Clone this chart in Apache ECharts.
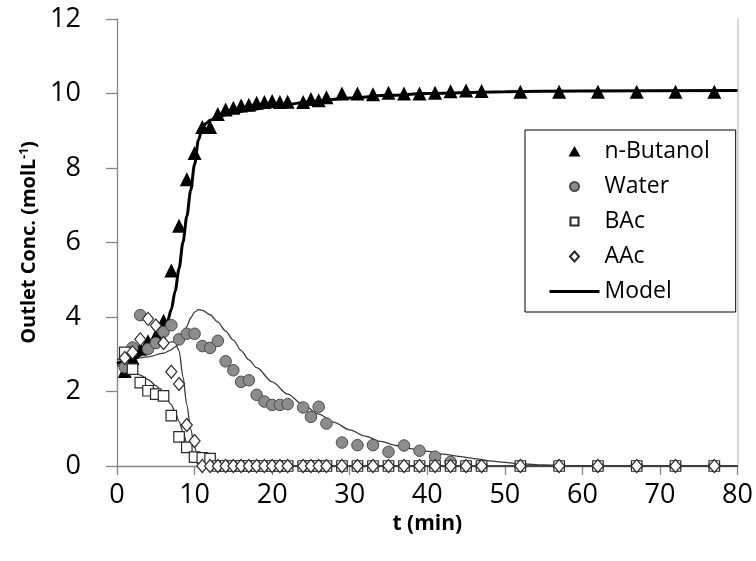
<!DOCTYPE html>
<html>
<head>
<meta charset="utf-8">
<script src="https://cdn.jsdelivr.net/npm/echarts@6/dist/echarts.min.js"></script>
<style>
  html, body { margin: 0; padding: 0; background: #fff; }
  #chart { width: 756px; height: 561px; }
</style>
</head>
<body>
<div id="chart"></div>
<script>
// Measured outlet concentrations (mol/L) against time (min)
const tButanol = [1,2,3,4,5,6,7,8,9,10,11,12,13,14,15,16,17,18,19,20,21,22,24,25,26,27,29,31,33,35,37,39,41,43,45,47,52,57,62,67,72,77];
const butanol  = [2.55,2.9,3.15,3.35,3.5,3.9,5.25,6.45,7.7,8.4,9.1,9.1,9.45,9.57,9.62,9.68,9.7,9.75,9.77,9.8,9.77,9.78,9.77,9.85,9.82,9.9,10.0,10.0,9.98,10.02,10.0,10.0,10.02,10.06,10.08,10.07,10.05,10.05,10.05,10.05,10.05,10.05];

const tWater = [1,2,3,4,5,6,7,8,9,10,11,12,13,14,15,16,17,18,19,20,21,22,24,25,26,27,29,31,33,35,37,39,41,43,45,47,52,57,62,67,72,77];
const water  = [2.65,3.18,4.05,3.14,3.3,3.6,3.78,3.4,3.55,3.55,3.22,3.17,3.36,2.81,2.57,2.26,2.3,1.91,1.73,1.64,1.64,1.66,1.57,1.32,1.59,1.14,0.63,0.56,0.56,0.38,0.55,0.41,0.25,0.11,0,0,0,0,0,0,0,0];

const tBAc = [1,2,3,4,5,6,7,8,9,10,11,12,13,14,15,16,17,18,19,20,21,22,24,25,26,27,29,31,33,35,37,39,41,43,45,47,52,57,62,67,72,77];
const bac  = [3.05,2.6,2.24,2.02,1.93,1.88,1.35,0.78,0.5,0.24,0.22,0.2,0,0,0,0,0,0,0,0,0,0,0,0,0,0,0,0,0,0,0,0,0,0,0,0,0,0,0,0,0,0];

const tAAc = [1,2,3,4,5,6,7,8,9,10,11,12,13,14,15,16,17,18,19,20,21,22,24,25,26,27,29,31,33,35,37,39,41,43,45,47,52,57,62,67,72,77];
const aac  = [2.9,3.05,3.4,3.95,3.77,3.3,2.53,2.2,1.1,0.67,0,0,0,0,0,0,0,0,0,0,0,0,0,0,0,0,0,0,0,0,0,0,0,0,0,0,0,0,0,0,0,0];

// Model curves
const modelButanolT = [0,2,4,5,6,6.5,7,7.5,8,8.5,9,9.5,10,10.5,11,11.5,12,13,15,17,20,25,30,35,40,50,60,80];
const modelButanol  = [2.75,2.88,3.08,3.28,3.62,3.88,4.2,4.7,5.3,6.0,6.7,7.4,8.1,8.75,9.08,9.2,9.28,9.38,9.48,9.56,9.65,9.78,9.88,9.95,10.0,10.05,10.07,10.08];

const modelWaterT = [0,2,4,6,7,7.5,8,8.5,9,9.5,10,10.5,11,12,13,14,15,16,17,18,20,22,24,26,28,30,32,34,36,38,40,42,44,46,48,50,52,55,58,60,80];
const modelWater  = [2.85,2.87,2.93,3.03,3.12,3.2,3.32,3.5,3.75,3.98,4.13,4.2,4.18,4.06,3.86,3.62,3.38,3.1,2.85,2.64,2.26,1.93,1.64,1.39,1.17,0.97,0.8,0.66,0.55,0.46,0.39,0.32,0.26,0.2,0.14,0.1,0.06,0.03,0.01,0,0];

const modelBAcT = [0,1,2,3,4,5,6,7,7.5,8,8.5,9,9.5,10,10.5,11,12,80];
const modelBAc  = [2.7,2.64,2.55,2.44,2.32,2.16,1.95,1.65,1.44,1.2,0.92,0.62,0.36,0.16,0.06,0.01,0,0];

const modelAAcT = [0,2,4,6,7,7.5,8,8.5,9,9.5,10,10.5,11,12,80];
const modelAAc  = [2.85,3.0,3.12,3.25,3.33,3.32,3.1,2.4,1.65,0.98,0.5,0.18,0.03,0,0];

// Axis ticks
const xTicks = { min: 0, max: 80, interval: 10 };
const yTicks = { min: 0, max: 12, interval: 2 };

const pairs = (xs, ys) => xs.map((x, i) => [x, ys[i]]);

// Legend icons laid out in a 50x11 box so that the small marker sits in the
// middle of the line-sized slot (the corner moves pin the bounding box).
const BOX = 'M0,0M50,11';
const ICON_TRIANGLE = 'path://' + BOX + 'M19,10.5L25,0L31,10.5Z';
const ICON_CIRCLE = 'path://' + BOX + 'M20.5,5.5a4.5,4.5 0 1,0 9,0a4.5,4.5 0 1,0 -9,0Z';
const ICON_SQUARE = 'path://' + BOX + 'M21,1.5L29,1.5L29,9.5L21,9.5Z';
const ICON_DIAMOND = 'path://' + BOX + 'M25,0.5L29.5,5.5L25,10.5L20.5,5.5Z';

const FONT = 'Open Sans';
const chart = echarts.init(document.getElementById('chart'), null, { renderer: 'canvas' });

const modelLine = (name, xs, ys, width, color) => ({
  name, type: 'line', data: pairs(xs, ys), symbol: 'none',
  smooth: 0.3, smoothMonotone: 'x', z: 2,
  lineStyle: { color, width }, itemStyle: { color }, silent: true
});

chart.setOption({
  animation: false,
  backgroundColor: '#fff',
  grid: { left: 117, right: 17, top: 19, bottom: 95 },
  legend: {
    orient: 'vertical',
    left: 525, top: 130,
    padding: [9, 26, 8, 23],
    borderColor: '#000', borderWidth: 1,
    backgroundColor: '#fff',
    itemWidth: 50, itemHeight: 11, itemGap: 10,
    textStyle: { fontFamily: FONT, fontSize: 23, color: '#000', lineHeight: 25 },
    data: [
      { name: 'n-Butanol', icon: ICON_TRIANGLE },
      { name: 'Water', icon: ICON_CIRCLE },
      { name: 'BAc', icon: ICON_SQUARE },
      { name: 'AAc', icon: ICON_DIAMOND },
      { name: 'Model', itemStyle: { opacity: 0 }, lineStyle: { width: 3, color: '#000', opacity: 1 } }
    ]
  },
  xAxis: [{
    type: 'value', min: xTicks.min, max: xTicks.max, interval: xTicks.interval,
    name: 't (min)', nameLocation: 'middle', nameGap: 47,
    nameTextStyle: { fontFamily: FONT, fontSize: 21, fontWeight: 'bold', color: '#000' },
    axisLine: { show: true, lineStyle: { color: '#868686', width: 1.3 } },
    axisTick: { show: true, length: 9, lineStyle: { color: '#868686', width: 1.3 } },
    axisLabel: { fontFamily: FONT, fontSize: 27, color: '#000', margin: 16 },
    splitLine: { show: false }
  }],
  yAxis: [{
    type: 'value', min: yTicks.min, max: yTicks.max, interval: yTicks.interval,
    name: '{a|Outlet Conc. (molL}{s|-1}{a|)}', nameLocation: 'middle', nameGap: 76, nameRotate: 90,
    nameTextStyle: {
      rich: {
        a: { fontFamily: FONT, fontSize: 20, fontWeight: 'bold', color: '#000' },
        s: { fontFamily: FONT, fontSize: 12, fontWeight: 'bold', color: '#000', verticalAlign: 'top', padding: [0, 0, 10, 0] }
      }
    },
    axisLine: { show: true, lineStyle: { color: '#868686', width: 1.3 } },
    axisTick: { show: true, length: 11, lineStyle: { color: '#868686', width: 1.3 } },
    axisLabel: { fontFamily: FONT, fontSize: 27, color: '#000', margin: 36 },
    splitLine: { show: false }
  }, {
    type: 'value', position: 'right', min: yTicks.min, max: yTicks.max, interval: yTicks.interval,
    axisLine: { show: true, lineStyle: { color: '#c8c8c8', width: 1.5 } },
    axisTick: { show: false }, axisLabel: { show: false }, splitLine: { show: false }
  }],
  series: [
    modelLine('Water model', modelWaterT, modelWater, 1.3, '#3a3a3a'),
    modelLine('BAc model', modelBAcT, modelBAc, 1.3, '#3a3a3a'),
    modelLine('AAc model', modelAAcT, modelAAc, 1.3, '#3a3a3a'),
    modelLine('Model', modelButanolT, modelButanol, 3, '#000'),
    {
      name: 'n-Butanol', type: 'scatter', data: pairs(tButanol, butanol), z: 3,
      symbol: 'triangle', symbolSize: 14,
      itemStyle: { color: '#000', opacity: 1 }
    },
    {
      name: 'Water', type: 'scatter', data: pairs(tWater, water), z: 4,
      symbol: 'circle', symbolSize: 11.5,
      itemStyle: { color: '#8c8c8c', borderColor: '#4a4a4a', borderWidth: 1, opacity: 1 }
    },
    {
      name: 'BAc', type: 'scatter', data: pairs(tBAc, bac), z: 5,
      symbol: 'rect', symbolSize: 10.5,
      itemStyle: { color: '#fff', borderColor: '#2a2a2a', borderWidth: 1.2, opacity: 1 }
    },
    {
      name: 'AAc', type: 'scatter', data: pairs(tAAc, aac), z: 6,
      symbol: 'diamond', symbolSize: [11, 13],
      itemStyle: { color: '#fff', borderColor: '#2a2a2a', borderWidth: 1.2, opacity: 1 }
    }
  ]
});
</script>
</body>
</html>
